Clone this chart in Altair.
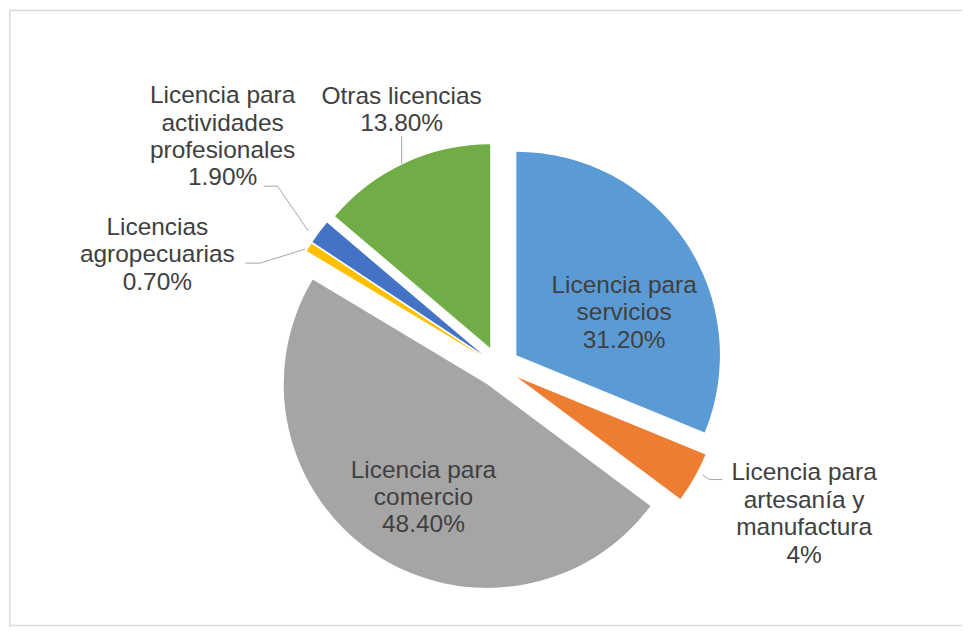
import altair as alt
import pandas as pd

# ---------------- data ----------------
categories = [
    "Licencia para servicios",
    "Licencia para artesanía y manufactura",
    "Licencia para comercio",
    "Licencias agropecuarias",
    "Licencia para actividades profesionales",
    "Otras licencias",
]
values = [31.2, 4.0, 48.4, 0.7, 1.9, 13.8]
value_labels = ["31.20%", "4%", "48.40%", "0.70%", "1.90%", "13.80%"]
label_lines = [
    ["Licencia para", "servicios"],
    ["Licencia para", "artesanía y", "manufactura"],
    ["Licencia para", "comercio"],
    ["Licencias", "agropecuarias"],
    ["Licencia para", "actividades", "profesionales"],
    ["Otras licencias"],
]
colors = ["#5B9BD5", "#ED7D31", "#A5A5A5", "#FFC000", "#4472C4", "#70AD47"]

df = pd.DataFrame({
    "idx": list(range(len(categories))),
    "category": categories,
    "value": values,
    "text": ["\n".join(l + [v]) for l, v in zip(label_lines, value_labels)],
})
n_lines = {c: len(l) + 1 for c, l in zip(categories, label_lines)}

# ---------------- layout ----------------
W, H = 955, 618
CX, CY = 491, 358      # pie centre
R = 204                # radius
D = 21                 # explosion distance
FONT = "Liberation Sans"
FS = 24.5
LH = 27.5
TXT = "#404040"
LEAD = "#A6A6A6"

# label placement: anchor ('inner' = slice centre, 'outer' = rim at bisector) + offset of block centre
label_place = {
    "Licencia para servicios": ("inner", 108, -42),
    "Licencia para artesanía y manufactura": ("outer", 110, 37),
    "Licencia para comercio": ("inner", -64, 114),
    "Licencias agropecuarias": ("outer", -152, 8),
    "Licencia para actividades profesionales": ("outer", -97, -95),
    "Otras licencias": ("outer", -3, -53),
}
# leader line segments, offsets from the rim point (x1, y1, x2, y2)
leaders = {
    "Licencia para artesanía y manufactura": [(8, -3, 15, 2), (15, 2, 28, 2)],
    "Licencias agropecuarias": [(-4, 2, -49, 16), (-49, 16, -64, 16)],
    "Licencia para actividades profesionales": [(-11, -1, -42, -46), (-42, -46, -56, -46)],
    "Otras licencias": [(-3, 1, -3, -27)],
}

base = (
    alt.Chart(df)
    .transform_window(cum="sum(value)", sort=[alt.SortField("idx")], frame=[None, 0])
    .transform_calculate(
        a0="datum.cum - datum.value",
        mid="(datum.cum - datum.value / 2) / 100 * 2 * PI",
    )
    .transform_calculate(
        sx=f"{CX} + {D} * sin(datum.mid)",
        sy=f"{CY} - {D} * cos(datum.mid)",
    )
    .transform_calculate(
        ox=f"datum.sx + {R} * sin(datum.mid)",
        oy=f"datum.sy - {R} * cos(datum.mid)",
    )
)

theta_scale = alt.Scale(domain=[0, 100], range=[0, 6.283185307179586])

pie = base.mark_arc(radius=R).encode(
    theta=alt.Theta("a0:Q", scale=theta_scale, stack=None),
    theta2="cum:Q",
    x=alt.X("sx:Q", scale=None, axis=None),
    y=alt.Y("sy:Q", scale=None, axis=None),
    color=alt.Color("category:N", scale=alt.Scale(domain=categories, range=colors), legend=None),
    tooltip=["category:N", "value:Q"],
)

layers = [pie]

for cat, segs in leaders.items():
    for (x1, y1, x2, y2) in segs:
        layers.append(
            base.transform_filter(alt.datum.category == cat)
            .transform_calculate(
                lx1=f"datum.ox + {x1}", ly1=f"datum.oy + {y1}",
                lx2=f"datum.ox + {x2}", ly2=f"datum.oy + {y2}",
            )
            .mark_rule(color=LEAD, strokeWidth=1)
            .encode(
                x=alt.X("lx1:Q", scale=None, axis=None),
                y=alt.Y("ly1:Q", scale=None, axis=None),
                x2="lx2:Q",
                y2="ly2:Q",
            )
        )

for cat, (anchor, dx, dy) in label_place.items():
    fx, fy = ("sx", "sy") if anchor == "inner" else ("ox", "oy")
    dy_block = dy - (n_lines[cat] - 1) * LH / 2
    layers.append(
        base.transform_filter(alt.datum.category == cat)
        .mark_text(
            dx=dx, dy=dy_block, align="center", baseline="middle", lineBreak="\n",
            lineHeight=LH, font=FONT, fontSize=FS, color=TXT,
        )
        .encode(
            x=alt.X(f"{fx}:Q", scale=None, axis=None),
            y=alt.Y(f"{fy}:Q", scale=None, axis=None),
            text="text:N",
        )
    )

# frame (top, left, bottom)
frame_src = alt.Chart(pd.DataFrame({"k": [0]}))
layers.append(frame_src.mark_rule(color="#D9D9D9", strokeWidth=1.5).encode(
    x=alt.value(0), x2=alt.value(W), y=alt.value(0.75)))
layers.append(frame_src.mark_rule(color="#D9D9D9", strokeWidth=1.5).encode(
    x=alt.value(0.75), y=alt.value(0), y2=alt.value(H)))
layers.append(frame_src.mark_rule(color="#D9D9D9", strokeWidth=1.5).encode(
    x=alt.value(0), x2=alt.value(W), y=alt.value(H - 0.75)))

chart = (
    alt.layer(*layers)
    .properties(width=W, height=H, padding=0, background="white")
    .configure_view(stroke=None)
)

chart.save("out.html", embed_options={"renderer": "svg", "actions": False})
